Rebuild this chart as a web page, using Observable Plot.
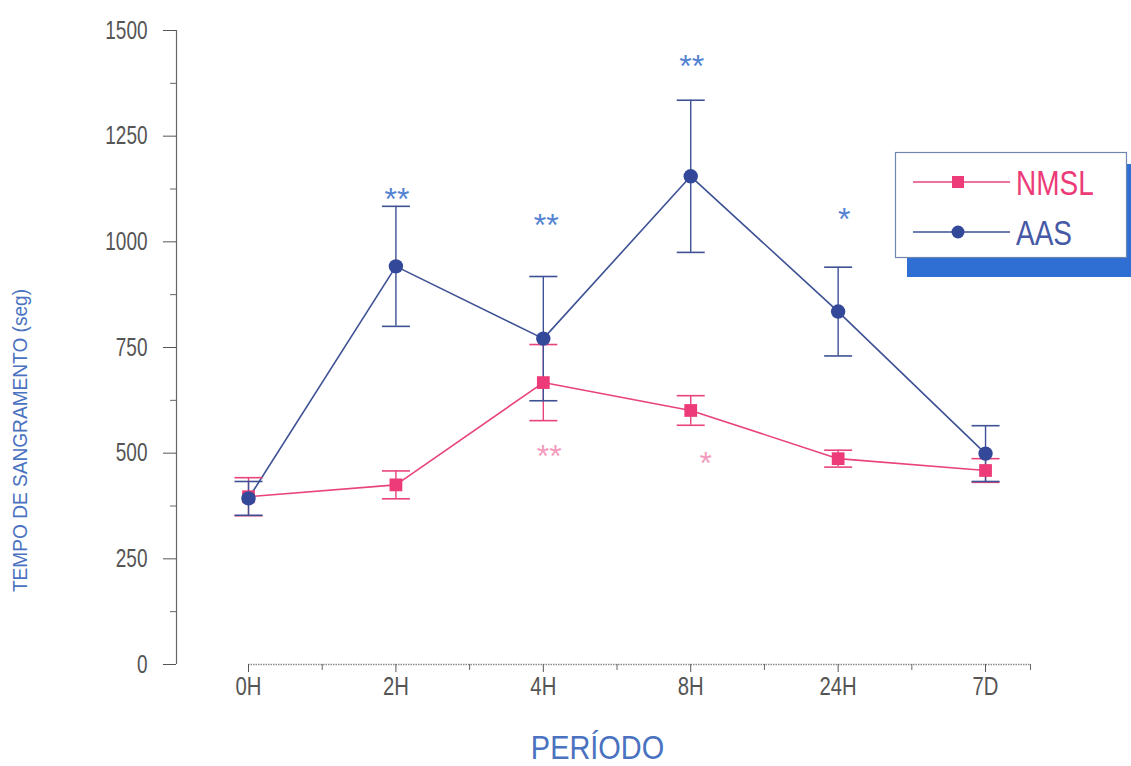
<!DOCTYPE html>
<html><head><meta charset="utf-8">
<script src="https://cdn.jsdelivr.net/npm/d3@7"></script>
<script src="https://cdn.jsdelivr.net/npm/@observablehq/plot@0.6"></script>
<style>
body{margin:0;background:#fff;}
#chart svg{display:block;}
</style>
</head><body><div id="chart"></div>
<script>
const categories = ["0H","2H","4H","8H","24H","7D"];
const seriesNames = ["NMSL","AAS"];
const nmslMean = [397, 425, 667, 601, 487, 459];
const nmslErr  = [45, 33, 90, 35, 20, 28];
const aasMean  = [393, 942, 771, 1155, 835, 499];
const aasErr   = [40, 142, 147, 180, 105, 66];
const yTicks = [0, 250, 500, 750, 1000, 1250, 1500];
const yMinorTicks = [125, 375, 625, 875, 1125, 1375];
// significance marks
const sigLabels = ["**","**","**","*","**","*"];
const sigCategory = ["2H","4H","8H","24H","4H","8H"];
const sigSeries = ["AAS","AAS","AAS","AAS","NMSL","NMSL"];
const sigValue = [1100, 1038, 1415, 1052, 491, 474];
const sigShift = [1, 3, 1, 6, 6, 15];

const colors = {NMSL: "#e8437c", AAS: "#3d5194"};
const markerColors = {NMSL: "#ec3b78", AAS: "#34489a"};
const sigColors = {NMSL: "#f49bbd", AAS: "#5283d2"};

const idx = c => categories.indexOf(c);
const rows = [];
seriesNames.forEach(s => {
  const m = s === "NMSL" ? nmslMean : aasMean;
  const e = s === "NMSL" ? nmslErr : aasErr;
  categories.forEach((c, i) => rows.push({series: s, cat: c, i, mean: m[i], lo: m[i] - e[i], hi: m[i] + e[i]}));
});
const sigs = sigLabels.map((l, k) => ({label: l, i: idx(sigCategory[k]), y: sigValue[k], series: sigSeries[k], shift: sigShift[k]}));
const shifts = [...new Set(sigShift)];

const capSymbol = {draw(ctx, size) { const w = Math.sqrt(size / Math.PI); ctx.moveTo(-w, 0); ctx.lineTo(w, 0); }};
const xMin = -0.4885, xMax = 5.305;
const minorX = [0.5, 1.5, 2.5, 3.5, 4.5, xMax];
const font = "Liberation Sans, Arial, sans-serif";
const yTitle = "TEMPO DE SANGRAMENTO (seg)";
const xTitle = "PERÍODO";

function legend() {
  const g = d3.create("svg:g");
  g.append("rect").attr("x", 907).attr("y", 164).attr("width", 240).attr("height", 113).attr("fill", "#2f6fd3");
  g.append("rect").attr("x", 895.5).attr("y", 152.5).attr("width", 231).attr("height", 105).attr("fill", "#fff").attr("stroke", "#6e86b0").attr("stroke-width", 1.2);
  const items = [{s: "NMSL", y: 182}, {s: "AAS", y: 232}];
  items.forEach(({s, y}) => {
    g.append("line").attr("x1", 913).attr("x2", 1010).attr("y1", y).attr("y2", y).attr("stroke", colors[s]).attr("stroke-width", 1.5);
    if (s === "NMSL") g.append("rect").attr("x", 952).attr("y", y - 6).attr("width", 12).attr("height", 12).attr("fill", markerColors[s]);
    else g.append("circle").attr("cx", 958).attr("cy", y).attr("r", 6.5).attr("fill", markerColors[s]);
    g.append("text").attr("transform", `translate(1016,${y + 13}) scale(0.8,1)`).attr("text-anchor", "start")
      .attr("font-size", 35).attr("font-family", font)
      .attr("fill", s === "NMSL" ? "#ec3b78" : "#4659a6").text(s);
  });
  return g.node();
}

const plot = Plot.plot({
  width: 1131, height: 766,
  marginLeft: 176, marginRight: 101, marginTop: 30, marginBottom: 102,
  style: {fontFamily: font, background: "#fff"},
  x: {type: "linear", domain: [xMin, xMax]},
  y: {domain: [0, 1500]},
  marks: [
    Plot.ruleY([0], {x1: 0, x2: xMax, stroke: "#8a8a8a", strokeWidth: 1.3, strokeDasharray: "1.5,1"}),
    Plot.ruleX([xMin], {y1: 0, y2: 1500, stroke: "#666", strokeWidth: 1.2}),
    Plot.axisY(yTicks, {tickSize: 13, tickPadding: 16, color: "#555", label: null, tickFormat: d => String(d)}),
    Plot.axisY(yMinorTicks, {tickSize: 6, tickFormat: () => "", color: "#666", label: null}),
    Plot.axisX(d3.range(categories.length), {tickSize: 8, tickPadding: 4, color: "#555", tickFormat: i => categories[i], label: null}),
    Plot.axisX(minorX, {tickSize: 6, tickFormat: () => "", color: "#666", label: null}),
    Plot.text([yTitle], {frameAnchor: "left", textAnchor: "middle", dx: -156, dy: 93, rotate: -90, fill: "#4a72c0"}),
    Plot.text([xTitle], {frameAnchor: "bottom", textAnchor: "middle", dx: -6, dy: 94, fill: "#4a72c0"}),
    Plot.line(rows, {x: "i", y: "mean", z: "series", stroke: d => colors[d.series], strokeWidth: 1.6}),
    Plot.ruleX(rows, {x: "i", y1: "lo", y2: "hi", stroke: d => colors[d.series], strokeWidth: 1.4}),
    Plot.dot(rows, {x: "i", y: "lo", symbol: capSymbol, r: 14, stroke: d => colors[d.series], strokeWidth: 1.6}),
    Plot.dot(rows, {x: "i", y: "hi", symbol: capSymbol, r: 14, stroke: d => colors[d.series], strokeWidth: 1.6}),
    Plot.dot(rows.filter(d => d.series === "NMSL"), {x: "i", y: "mean", symbol: "square", r: 7.2, fill: markerColors.NMSL, stroke: "none"}),
    Plot.dot(rows.filter(d => d.series === "AAS"), {x: "i", y: "mean", symbol: "circle", r: 7.2, fill: markerColors.AAS, stroke: "none"}),
    ...shifts.map(sh => Plot.text(sigs.filter(d => d.shift === sh), {x: "i", y: "y", text: "label", dx: sh, fill: d => sigColors[d.series]})),
    legend
  ]
});
// condensed lettering of the original: font size + horizontal squeeze
const styleFor = t => {
  if (t === yTitle) return {size: 21, sx: 0.91};
  if (t === xTitle) return {size: 34, sx: 0.85};
  if (categories.includes(t)) return {size: 26, sx: 0.78};
  if (yTicks.map(String).includes(t)) return {size: 25, sx: 0.76};
  if (t === "*" || t === "**") return {size: 32, sx: 1};
  return null;
};
plot.querySelectorAll("text").forEach(el => {
  const st = styleFor(el.textContent);
  if (!st) return;
  el.style.fontSize = st.size + "px";
  if (st.sx === 1) return;
  const xa = el.getAttribute("x");
  if (xa !== null && xa !== "" && !isNaN(+xa)) el.setAttribute("x", +xa / st.sx);
  el.setAttribute("transform", `${el.getAttribute("transform") || ""} scale(${st.sx},1)`);
});
document.getElementById("chart").appendChild(plot);
</script>
</body></html>
